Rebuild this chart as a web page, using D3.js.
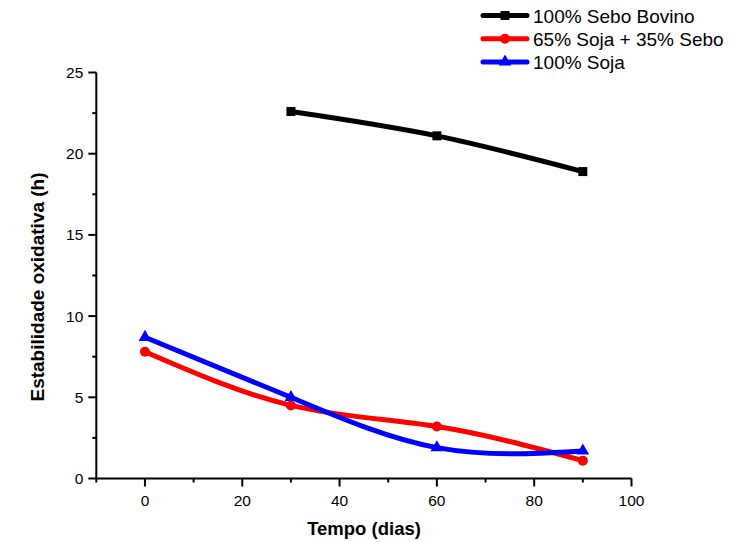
<!DOCTYPE html>
<html>
<head>
<meta charset="utf-8">
<script src="https://cdn.jsdelivr.net/npm/d3@7"></script>
<style>
  body { margin: 0; background: #fff; }
  svg text { font-family: Arial, "Liberation Sans", sans-serif; }
</style>
</head>
<body>
<div id="chart"></div>
<script>
// data
const diasSebo = [30, 60, 90];
const sebo = [22.6, 21.1, 18.9];
const dias = [0, 30, 60, 90];
const mistura = [7.8, 4.5, 3.2, 1.1];
const soja = [8.7, 5.0, 1.9, 1.7];
const xTicks = [0, 20, 40, 60, 80, 100];
const yTicks = [0, 5, 10, 15, 20, 25];

const series = [
  { name: "100% Sebo Bovino", color: "#000000", shape: "square", x: diasSebo, y: sebo },
  { name: "65% Soja + 35% Sebo", color: "#ff0000", shape: "circle", x: dias, y: mistura },
  { name: "100% Soja", color: "#0000ff", shape: "triangle", x: dias, y: soja }
];

const width = 736, height = 542;

const svg = d3.select("#chart")
  .append("svg")
    .attr("width", width)
    .attr("height", height);

// scales
const x = d3.scaleLinear().domain([-10, 100]).range([96.3, 631.5]);
const y = d3.scaleLinear().domain([0, 25]).range([478.5, 72.5]);

// x axis
const gx = svg.append("g").attr("transform", `translate(0,${y(0)})`);
gx.append("line")
  .attr("x1", x(-10)).attr("x2", x(100))
  .attr("stroke", "#000").attr("stroke-width", 2);
gx.selectAll(".minor")
  .data(d3.range(-10, 101, 10))
  .join("line")
    .attr("x1", d => x(d)).attr("x2", d => x(d))
    .attr("y1", 0).attr("y2", d => xTicks.includes(d) ? 8 : 4)
    .attr("stroke", "#000").attr("stroke-width", 2);
gx.selectAll("text")
  .data(xTicks)
  .join("text")
    .attr("x", d => x(d)).attr("y", 27)
    .attr("text-anchor", "middle")
    .attr("font-size", 15.5)
    .text(d => d);

// y axis
const gy = svg.append("g").attr("transform", `translate(${x(-10)},0)`);
gy.append("line")
  .attr("y1", y(0)).attr("y2", y(25))
  .attr("stroke", "#000").attr("stroke-width", 2);
gy.selectAll(".tick")
  .data(d3.range(0, 25.1, 2.5))
  .join("line")
    .attr("y1", d => y(d)).attr("y2", d => y(d))
    .attr("x1", d => yTicks.includes(d) ? -8 : -4).attr("x2", 0)
    .attr("stroke", "#000").attr("stroke-width", 2);
gy.selectAll("text")
  .data(yTicks)
  .join("text")
    .attr("x", -13).attr("y", d => y(d) + 5.5)
    .attr("text-anchor", "end")
    .attr("font-size", 15.5)
    .text(d => d);

// axis titles
svg.append("text")
  .attr("x", 364).attr("y", 535)
  .attr("text-anchor", "middle")
  .attr("font-size", 18.5).attr("font-weight", "bold")
  .text("Tempo (dias)");
svg.append("text")
  .attr("transform", "translate(44,287) rotate(-90)")
  .attr("text-anchor", "middle")
  .attr("font-size", 19).attr("font-weight", "bold")
  .text("Estabilidade oxidativa (h)");

// markers
function marker(g, shape, color, cx, cy) {
  if (shape === "square") {
    g.append("rect").attr("x", cx - 4.5).attr("y", cy - 4.5)
      .attr("width", 9).attr("height", 9).attr("fill", color);
  } else if (shape === "circle") {
    g.append("circle").attr("cx", cx).attr("cy", cy).attr("r", 5).attr("fill", color);
  } else {
    g.append("path").attr("d", d3.symbol(d3.symbolTriangle, 70)())
      .attr("transform", `translate(${cx},${cy})`).attr("fill", color);
  }
}

// lines
const line = d3.line()
  .x(d => x(d[0]))
  .y(d => y(d[1]))
  .curve(d3.curveNatural);

series.forEach(s => {
  const pts = s.x.map((v, i) => [v, s.y[i]]);
  const g = svg.append("g");
  g.append("path")
    .datum(pts)
    .attr("d", line)
    .attr("fill", "none")
    .attr("stroke", s.color)
    .attr("stroke-width", 5);
  pts.forEach(p => marker(g, s.shape, s.color, x(p[0]), y(p[1])));
});

// legend
const legend = svg.append("g");
series.forEach((s, i) => {
  const ly = 15.5 + i * 23.2;
  const g = legend.append("g");
  g.append("line")
    .attr("x1", 483).attr("x2", 527).attr("y1", ly).attr("y2", ly)
    .attr("stroke", s.color).attr("stroke-width", 5).attr("stroke-linecap", "round");
  marker(g, s.shape, s.color, 505, ly);
  g.append("text")
    .attr("x", 533).attr("y", ly + 7)
    .attr("font-size", 19)
    .text(s.name);
});
</script>
</body>
</html>
